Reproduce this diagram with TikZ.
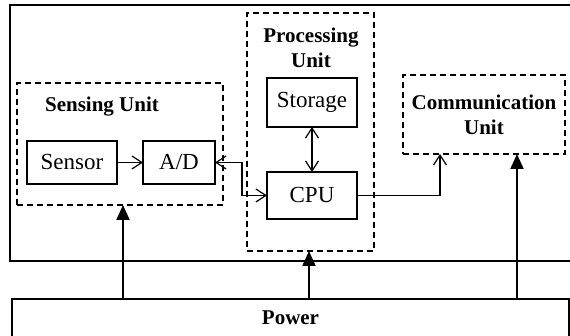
\documentclass[tikz,border=0pt]{standalone}
\usepackage{fontspec}
\setmainfont{Liberation Serif}
\usetikzlibrary{arrows.meta}

\begin{document}
\begin{tikzpicture}[x=0.5pt, y=0.5pt, >={Straight Barb[length=5pt,width=6.5pt]},
    blk/.style={draw, line width=0.75pt, inner sep=0pt, outer sep=0pt, font=\fontsize{11.5}{13}\selectfont},
    ttl/.style={inner sep=0pt, align=center, font=\bfseries\fontsize{10.5}{12.5}\selectfont},
    unit/.style={ttl, draw, line width=0.75pt, outer sep=0pt, dash pattern=on 3pt off 2pt},
    link/.style={line width=0.6pt},
    pwr/.style={line width=1pt, -{Triangle[length=7.5pt,width=6.5pt]}}]
    \useasboundingbox (0,0) rectangle (570,336);
    \clip (0,0) rectangle (570,336);

    % node frame
    \draw[line width=0.75pt] (10,75) rectangle (590,331);

    \node[unit, minimum width=103pt, minimum height=61pt] (sens) at (120,192) {};
    \node[ttl] (senst) at (102,229) {Sensing Unit};
    \node[blk, minimum width=45pt, minimum height=21.5pt] (sensor) at (72,173.5) {Sensor};
    \node[blk, minimum width=36pt, minimum height=21.5pt] (ad) at (179,173.5) {A/D};

    \node[unit, minimum width=63.5pt, minimum height=119pt] (proc) at (310.5,204) {};
    \node[ttl] (proct) at (311,288.5) {Processing\\Unit};
    \node[blk, minimum width=45pt, minimum height=24.5pt] (stor) at (312,233.5) {Storage};
    \node[blk, minimum width=45pt, minimum height=23.5pt] (cpu) at (312,140.5) {CPU};

    \node[unit, minimum width=81pt, minimum height=39.5pt] (comm) at (484,221.5) {Communication\\Unit};

    \node[ttl, draw, line width=0.75pt, outer sep=0pt, minimum width=278.5pt, minimum height=19pt] (power) at (290.5,18) {Power};

    % data paths
    \draw[link, ->] (sensor) -- (ad);
    \draw[link, <->] (ad.east) -- ++(27,0) |- (cpu.west);
    \draw[link, <->] (stor) -- (cpu);
    \coordinate (c1) at (440,0);
    \draw[link, ->] (cpu.east) -| (comm.south -| c1);

    % power lines
    \coordinate (p1) at (123,0);
    \coordinate (p2) at (309,0);
    \coordinate (p3) at (517,0);
    \draw[pwr] (power.north -| p1) -- (sens.south -| p1);
    \draw[pwr] (power.north -| p2) -- (proc.south -| p2);
    \draw[pwr] (power.north -| p3) -- (comm.south -| p3);
\end{tikzpicture}
\end{document}
